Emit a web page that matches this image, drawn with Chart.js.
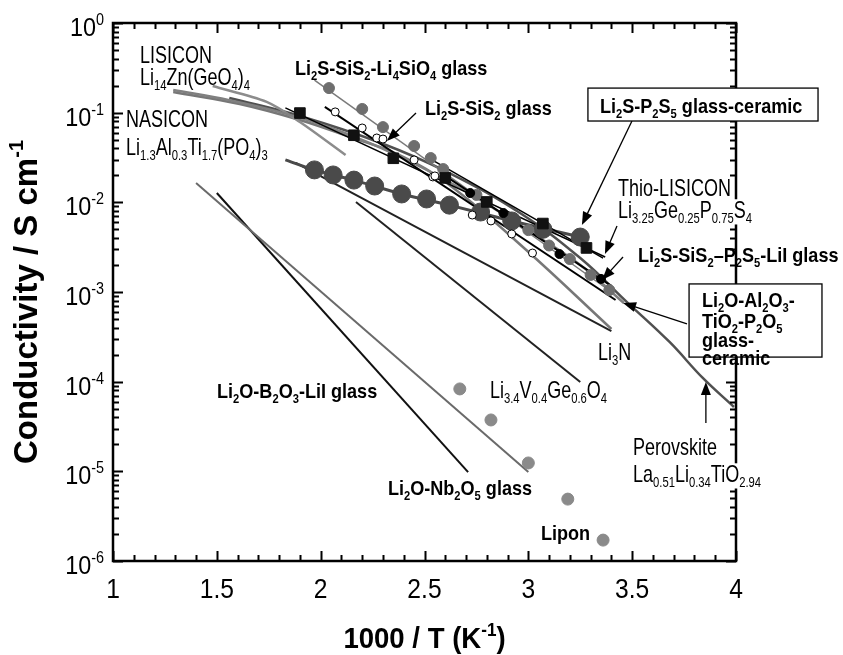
<!DOCTYPE html>
<html>
<head>
<meta charset="utf-8">
<script src="https://cdn.jsdelivr.net/npm/chart.js@4.4.0/dist/chart.umd.min.js"></script>
<style>
    body { margin: 0; background: #ffffff; }
    #contenedor { width: 843px; height: 655px; }
</style>
</head>
<body>
<div id="contenedor"><canvas id="grafico" width="843" height="655"></canvas></div>
<script>
// x = 1000/T (K^-1), y = conductividad (S cm^-1)
var xCuadrados = [1.90, 2.16, 2.35, 2.60, 2.80, 3.07, 3.28];
var yCuadrados = [0.099, 0.056, 0.031, 0.0187, 0.0101, 0.0058, 0.0031];
var xLineaCuadrados = [1.83, 3.37];
var yLineaCuadrados = [0.113, 0.00246];

var xCeramico = [1.97, 2.06, 2.16, 2.26, 2.39, 2.51, 2.62, 2.77, 2.92, 3.07, 3.25];
var yCeramico = [0.0230, 0.0202, 0.0177, 0.0152, 0.0124, 0.0109, 0.0093, 0.0078, 0.0062, 0.0050, 0.0041];
var xLineaCeramico = [1.83, 1.97, 2.16, 2.39, 2.62, 2.92, 3.25];
var yLineaCeramico = [0.0297, 0.0230, 0.0177, 0.0124, 0.0093, 0.0062, 0.0041];

var xSiO4 = [2.04, 2.20, 2.30, 2.45, 2.53, 2.59, 2.75, 3.00, 3.10, 3.20, 3.30, 3.39];
var ySiO4 = [0.188, 0.110, 0.069, 0.0425, 0.0312, 0.0235, 0.0121, 0.0049, 0.0033, 0.00233, 0.00155, 0.00105];
var xLineaSiO4 = [1.97, 3.40];
var yLineaSiO4 = [0.231, 0.00100];

var xSiS2 = [2.07, 2.20, 2.27, 2.30, 2.45, 2.54, 2.55, 2.73, 2.82, 2.92, 3.02];
var ySiS2 = [0.102, 0.0675, 0.0522, 0.0508, 0.0297, 0.0192, 0.0197, 0.00722, 0.00620, 0.00444, 0.00272];
var xLineaSiS2 = [2.02, 3.42];
var yLineaSiS2 = [0.116, 0.000814];

var xLiI = [2.72, 2.88, 3.15, 3.35];
var yLiI = [0.0127, 0.0076, 0.00265, 0.0014];
var xLineaLiI = [2.58, 3.40];
var yLineaLiI = [0.0212, 0.00117];

var xTio = [2.53, 3.36];
var yTio = [0.0304, 0.00239];

var xNasicon = [1.29, 1.56, 1.80, 2.05, 2.29, 2.53, 2.77, 3.01, 3.25, 3.46];
var yNasicon = [0.179, 0.138, 0.102, 0.0675, 0.0404, 0.0218, 0.0106, 0.00467, 0.00200, 0.000753];

var xLisicon = [1.48, 1.74, 1.90, 2.12];
var yLisicon = [0.198, 0.132, 0.0787, 0.0337];

var xGris = [1.29, 1.61, 1.90, 2.14, 2.38, 2.62, 2.99, 3.40];
var yGris = [0.170, 0.125, 0.0828, 0.0536, 0.0337, 0.0156, 0.00294, 0.000387];

var xPerovskita = [1.56, 1.90, 2.29, 2.62, 2.96, 3.25, 3.48, 3.68, 3.84, 3.99];
var yPerovskita = [0.146, 0.0918, 0.0459, 0.0212, 0.00760, 0.00239, 0.000753, 0.000277, 0.000110, 5.22e-5];

var xLi3N = [1.88, 3.40];
var yLi3N = [0.0275, 0.000367];

var xGermanato = [2.17, 3.25];
var yGermanato = [0.0101, 9.9e-5];

var xBorato = [1.40, 3.00];
var yBorato = [0.0164, 9.8e-6];

var xNiobato = [1.50, 2.71];
var yNiobato = [0.0127, 9.8e-6];

var xLipon = [2.67, 2.82, 3.00, 3.19, 3.36];
var yLipon = [8.3e-5, 3.74e-5, 1.24e-5, 4.9e-6, 1.71e-6];

var ticksX = ['1', '1.5', '2', '2.5', '3', '3.5', '4'];
var exponentesY = [0, -1, -2, -3, -4, -5, -6];

var FUENTE = "'Liberation Sans', Arial, sans-serif";

function puntos(xs, ys) {
    var r = [];
    for (var i = 0; i < xs.length; i++) {
        r.push({x: xs[i], y: ys[i]});
    }
    return r;
}

function marcas(xs, ys, estilo, radio, relleno, borde) {
    return {
        data: puntos(xs, ys), showLine: false, pointStyle: estilo, pointRadius: radio,
        pointBackgroundColor: relleno, pointBorderColor: borde, pointBorderWidth: 1
    };
}

function linea(xs, ys, color, ancho, curva) {
    return {
        data: puntos(xs, ys), showLine: true, borderColor: color, borderWidth: ancho,
        pointRadius: 0, fill: false, tension: curva || 0
    };
}

// etiquetas: _{} subindice, ^{} superindice
var etiquetas = [
    {t: 'LISICON', x: 1.130, y: 0.358},
    {t: 'Li_{14}Zn(GeO_{4})_{4}', x: 1.130, y: 0.204},
    {t: 'NASICON', x: 1.063, y: 0.0692},
    {t: 'Li_{1.3}Al_{0.3}Ti_{1.7}(PO_{4})_{3}', x: 1.063, y: 0.0337},
    {t: 'Li_{2}S-SiS_{2}-Li_{4}SiO_{4} glass', x: 1.876, y: 0.263, b: true},
    {t: 'Li_{2}S-SiS_{2} glass', x: 2.502, y: 0.0942, b: true},
    {t: 'Thio-LISICON', x: 3.432, y: 0.0118, fondo: true},
    {t: 'Li_{3.25}Ge_{0.25}P_{0.75}S_{4}', x: 3.432, y: 0.00669, fondo: true},
    {t: 'Li_{2}S-SiS_{2}\u2013P_{2}S_{5}-LiI glass', x: 3.528, y: 0.00216, b: true},
    {t: 'Li_{3}N', x: 3.335, y: 1.74e-4},
    {t: 'Li_{3.4}V_{0.4}Ge_{0.6}O_{4}', x: 2.815, y: 6.58e-5},
    {t: 'Li_{2}O-B_{2}O_{3}-LiI glass', x: 1.501, y: 6.58e-5, b: true},
    {t: 'Li_{2}O-Nb_{2}O_{5} glass', x: 2.324, y: 5.45e-6, b: true},
    {t: 'Lipon', x: 3.061, y: 1.71e-6, b: true},
    {t: 'Perovskite', x: 3.504, y: 1.52e-5, fondo: true},
    {t: 'La_{0.51}Li_{0.34}TiO_{2.94}', x: 3.504, y: 7.6e-6, fondo: true}
];

var cajas = [
    {x1: 3.287, y1: 0.188, x2: 4.395, y2: 0.0807,
     lineas: [{t: 'Li_{2}S-P_{2}S_{5} glass-ceramic', x: 3.345, y: 0.0991}]},
    {x1: 3.774, y1: 0.00123, x2: 4.414, y2: 1.88e-4,
     lineas: [{t: 'Li_{2}O-Al_{2}O_{3}-', x: 3.836, y: 6.8e-4},
              {t: 'TiO_{2}-P_{2}O_{5}', x: 3.836, y: 3.97e-4},
              {t: 'glass-', x: 3.836, y: 2.44e-4},
              {t: 'ceramic', x: 3.836, y: 1.53e-4}]}
];

var flechas = [
    [2.459, 0.0991, 2.319, 0.0483],
    [3.499, 0.0807, 3.258, 0.00559],
    [3.427, 0.00545, 3.369, 0.00265],
    [3.456, 0.00246, 3.355, 0.00136],
    [3.764, 4.40e-4, 3.456, 7.54e-4],
    [3.855, 3.46e-5, 3.855, 9.9e-5]
];

function partes(str) {
    var re = /([_^])\{([^}]*)\}|([^_^]+)/g, m, out = [];
    while ((m = re.exec(str)) !== null) {
        if (m[3]) out.push({t: m[3], k: 0});
        else out.push({t: m[2], k: m[1] === '_' ? 1 : 2});
    }
    return out;
}

function textoRico(ctx, str, x, y, size, bold, sx, align, fondo) {
    var ps = partes(str), ancho = 0;
    ps.forEach(function (p) {
        ctx.font = (bold ? 'bold ' : '') + Math.round(p.k ? size * 0.62 : size) + 'px ' + FUENTE;
        p.w = ctx.measureText(p.t).width;
        ancho += p.w;
    });
    ancho *= sx;
    var x0 = align === 'right' ? x - ancho : (align === 'center' ? x - ancho / 2 : x);
    if (fondo) {
        ctx.fillStyle = '#ffffff';
        ctx.fillRect(x0 - 2, y - size * 0.78, ancho + 4, size * 1.05);
    }
    ctx.save();
    ctx.translate(x0, y);
    ctx.scale(sx, 1);
    ctx.fillStyle = '#000000';
    ctx.textBaseline = 'alphabetic';
    ctx.textAlign = 'left';
    var cx = 0;
    ps.forEach(function (p) {
        ctx.font = (bold ? 'bold ' : '') + Math.round(p.k ? size * 0.62 : size) + 'px ' + FUENTE;
        var dy = p.k === 1 ? size * 0.22 : (p.k === 2 ? -size * 0.42 : 0);
        ctx.fillText(p.t, cx, dy);
        cx += p.w;
    });
    ctx.restore();
    return ancho;
}

function flecha(ctx, x1, y1, x2, y2) {
    var ang = Math.atan2(y2 - y1, x2 - x1), largo = 13, medio = 5;
    ctx.strokeStyle = '#000000';
    ctx.lineWidth = 1.3;
    ctx.beginPath();
    ctx.moveTo(x1, y1);
    ctx.lineTo(x2 - Math.cos(ang) * largo * 0.8, y2 - Math.sin(ang) * largo * 0.8);
    ctx.stroke();
    ctx.fillStyle = '#000000';
    ctx.beginPath();
    ctx.moveTo(x2, y2);
    ctx.lineTo(x2 - Math.cos(ang) * largo + Math.sin(ang) * medio, y2 - Math.sin(ang) * largo - Math.cos(ang) * medio);
    ctx.lineTo(x2 - Math.cos(ang) * largo - Math.sin(ang) * medio, y2 - Math.sin(ang) * largo + Math.cos(ang) * medio);
    ctx.closePath();
    ctx.fill();
}

var marco = {
    id: 'marco',
    beforeDraw: function (chart) {
        var ctx = chart.ctx;
        ctx.save();
        ctx.fillStyle = '#ffffff';
        ctx.fillRect(0, 0, chart.width, chart.height);
        ctx.restore();
    },
    afterDraw: function (chart) {
        var ctx = chart.ctx, a = chart.chartArea;
        var sx = chart.scales.x, sy = chart.scales.y;
        ctx.save();
        ctx.strokeStyle = '#000000';
        ctx.lineWidth = 2.5;
        ctx.strokeRect(a.left, a.top, a.right - a.left, a.bottom - a.top);

        // ticks hacia dentro
        ctx.lineWidth = 2;
        ctx.beginPath();
        for (var i = 10; i <= 40; i++) {
            var px = Math.round(sx.getPixelForValue(i / 10)) + 0.5;
            var l = (i % 5 === 0) ? 10 : 6;
            ctx.moveTo(px, a.bottom); ctx.lineTo(px, a.bottom - l);
            ctx.moveTo(px, a.top); ctx.lineTo(px, a.top + l);
        }
        for (var e = -6; e <= 0; e++) {
            for (var k = 1; k <= 9; k++) {
                var v = k * Math.pow(10, e);
                if (v > 1.0001) break;
                var py = Math.round(sy.getPixelForValue(v)) + 0.5;
                var lt = (k === 1) ? 10 : 6;
                ctx.moveTo(a.left, py); ctx.lineTo(a.left + lt, py);
                ctx.moveTo(a.right, py); ctx.lineTo(a.right - lt, py);
            }
        }
        ctx.stroke();

        // etiquetas de los ejes
        ticksX.forEach(function (t) {
            textoRico(ctx, t, sx.getPixelForValue(parseFloat(t)), a.bottom + 37, 28, false, 0.88, 'center');
        });
        exponentesY.forEach(function (ex) {
            var py = sy.getPixelForValue(Math.pow(10, ex));
            textoRico(ctx, '10^{' + ex + '}', a.left - 9, py + 13, 26, false, 0.9, 'right');
        });

        textoRico(ctx, '1000 / T (K^{-1})', (a.left + a.right) / 2, a.bottom + 87, 29, true, 0.95, 'center');
        ctx.save();
        ctx.translate(37, (a.top + a.bottom) / 2 + 10);
        ctx.rotate(-Math.PI / 2);
        textoRico(ctx, 'Conductivity / S cm^{-1}', 0, 0, 33, true, 1, 'center');
        ctx.restore();

        // flechas
        flechas.forEach(function (f) {
            flecha(ctx, sx.getPixelForValue(f[0]), sy.getPixelForValue(f[1]),
                   sx.getPixelForValue(f[2]), sy.getPixelForValue(f[3]));
        });

        // cajas
        cajas.forEach(function (c) {
            var x1 = sx.getPixelForValue(c.x1), y1 = sy.getPixelForValue(c.y1);
            var x2 = sx.getPixelForValue(c.x2), y2 = sy.getPixelForValue(c.y2);
            ctx.fillStyle = '#ffffff';
            ctx.fillRect(x1, y1, x2 - x1, y2 - y1);
            ctx.strokeStyle = '#000000';
            ctx.lineWidth = 1.3;
            ctx.strokeRect(x1, y1, x2 - x1, y2 - y1);
            c.lineas.forEach(function (ln) {
                textoRico(ctx, ln.t, sx.getPixelForValue(ln.x), sy.getPixelForValue(ln.y), 21, true, 0.86, 'left');
            });
        });

        etiquetas.forEach(function (et) {
            var tam = et.b ? 21 : 24, esc = et.b ? 0.86 : 0.75;
            textoRico(ctx, et.t, sx.getPixelForValue(et.x), sy.getPixelForValue(et.y), tam, !!et.b, esc, 'left', et.fondo);
        });
        ctx.restore();
    }
};

function graficoConductividad() {
    var datos = [
        marcas(xLiI, yLiI, 'circle', 4.5, '#000000', '#000000'),
        marcas(xSiS2, ySiS2, 'circle', 4, '#ffffff', '#000000'),
        marcas(xCuadrados, yCuadrados, 'rect', 7.5, '#111111', '#111111'),
        marcas(xSiO4, ySiO4, 'circle', 5.5, '#6e6e6e', '#6e6e6e'),
        marcas(xCeramico, yCeramico, 'circle', 9, '#4a4a4a', '#4a4a4a'),
        marcas(xLipon, yLipon, 'circle', 6, '#8a8a8a', '#8a8a8a'),
        linea(xLineaLiI, yLineaLiI, '#000000', 2),
        linea(xLineaSiS2, yLineaSiS2, '#000000', 2),
        linea(xLineaCuadrados, yLineaCuadrados, '#000000', 1.5),
        linea(xTio, yTio, '#000000', 1.5),
        linea(xLineaSiO4, yLineaSiO4, '#7a7a7a', 1.5),
        linea(xLineaCeramico, yLineaCeramico, '#4a4a4a', 3, 0.3),
        linea(xNasicon, yNasicon, '#808080', 2.5, 0.4),
        linea(xLisicon, yLisicon, '#8c8c8c', 2.5, 0.3),
        linea(xGris, yGris, '#777777', 2.5, 0.4),
        linea(xPerovskita, yPerovskita, '#505050', 2.5, 0.4),
        linea(xLi3N, yLi3N, '#222222', 2),
        linea(xGermanato, yGermanato, '#222222', 2),
        linea(xBorato, yBorato, '#6a6a6a', 2),
        linea(xNiobato, yNiobato, '#111111', 2)
    ];
    new Chart(document.getElementById('grafico').getContext('2d'), {
        type: 'scatter',
        data: {datasets: datos},
        options: {
            responsive: false,
            devicePixelRatio: 1,
            animation: false,
            layout: {padding: {left: 113, top: 23, right: 107, bottom: 94}},
            plugins: {legend: {display: false}, tooltip: {enabled: false}},
            scales: {
                x: {type: 'linear', min: 1, max: 4, display: false},
                y: {type: 'logarithmic', min: 1e-6, max: 1, display: false}
            }
        },
        plugins: [marco]
    });
}

graficoConductividad();
</script>
</body>
</html>
